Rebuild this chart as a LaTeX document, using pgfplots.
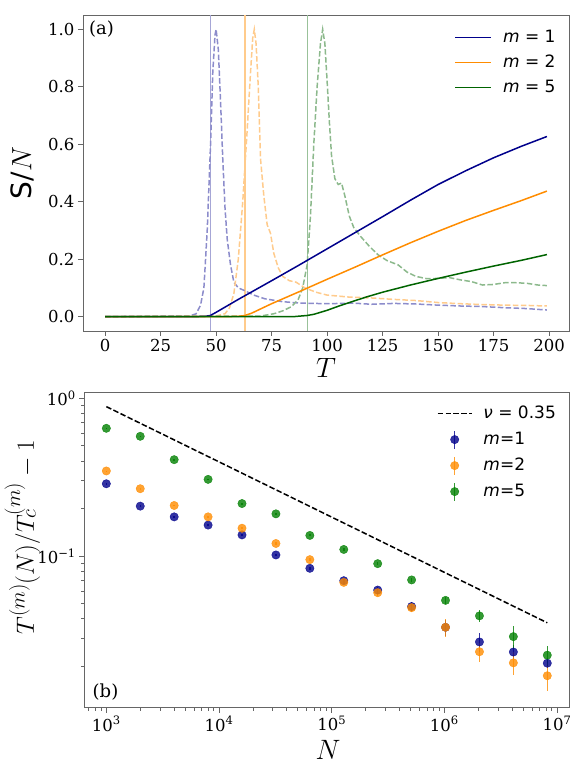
\documentclass[border=0pt]{standalone}
\usepackage{graphicx}
\usepackage{fontspec}
\setmainfont{DejaVu Serif}
\newfontfamily\dvs{DejaVu Sans}
\usepackage{pgfplots}
\pgfplotsset{compat=1.18}

\definecolor{bC}{HTML}{00008B}
\definecolor{oC}{HTML}{FF8C00}
\definecolor{gC}{HTML}{006400}
\definecolor{gP}{HTML}{008000}

% math fonts stop at 24.88pt, so the axis labels are scaled up
\newcommand\lbl[1]{\scalebox{1.125}{#1}}

\pgfplotsset{
  panel/.style={
    scale only axis,
    axis line style={black!60, line width=0.9pt},
    tick align=outside, tick pos=left,
    major tick length=5pt, minor tick length=3pt,
    tick style={black!60, line width=0.8pt},
    tick label style={font=\fontsize{16.5}{18}\selectfont},
    label style={font=\fontsize{24.88}{30}\selectfont},
    /pgf/number format/assume math mode=true,
    legend cell align=left,
  },
  vline/.style={line width=1.6pt, forget plot},
  dline/.style={line width=1.5pt, dash pattern=on 5.5pt off 2.4pt, forget plot},
  sline/.style={line width=1.5pt},
  pts/.style={only marks, mark=*, mark size=4.2pt, opacity=0.8,
    error bars/y dir=both, error bars/y explicit, error bars/error mark=none,
    error bars/error bar style={line width=1.5pt, solid}},
}

\begin{document}
\begin{tikzpicture}[x=1pt,y=1pt]
\path[use as bounding box] (0,0) rectangle (576,770);

% ---- (a) order parameter vs temperature
\begin{axis}[panel,
    at={(83pt,439pt)}, anchor=south west,
    width=486pt, height=316pt,
    xmin=-9.95, xmax=208.95, ymin=-0.05, ymax=1.05,
    xtick={0,25,50,75,100,125,150,175,200},
    ytick={0,0.2,0.4,0.6,0.8,1},
    yticklabel style={/pgf/number format/.cd, fixed, fixed zerofill, precision=1},
    xlabel={\lbl{$T$}}, ylabel={\lbl{{\dvs S}/$N$}},
    xlabel style={at={(axis description cs:0.5,-0.117)}, anchor=center},
    ylabel style={at={(axis description cs:-0.125,0.5)}, anchor=center},
    legend style={draw=none, fill=none, at={(0.985,0.972)}, anchor=north east,
      font=\dvs\fontsize{17}{20}\selectfont,
      nodes={inner sep=3pt, text height=13pt, text depth=4pt}, row sep=2pt,
      /tikz/every odd column/.append style={column sep=8pt}},
    legend image code/.code={\draw[#1] (0pt,0pt)--(36pt,0pt);},
]
\addplot[vline, bC!35] coordinates {(47.4,-0.05)(47.4,1.05)};
\addplot[vline, oC!45] coordinates {(63.0,-0.05)(63.0,1.05)};
\addplot[vline, gC!40] coordinates {(91.2,-0.05)(91.2,1.05)};

\addplot[dline, bC!45] coordinates {
(0,0)(38,0.002)(41,0.01)(43,0.04)(44.5,0.1)(46,0.3)(47.5,0.6)(48.5,0.85)
(49.5,0.98)(50,1.0)(51,0.93)(52,0.75)(53,0.55)(54,0.38)(55,0.27)(56.5,0.18)
(58,0.12)(60,0.10)(63,0.09)(67,0.075)(72,0.062)(80,0.052)(88,0.047)(100,0.045)
(112,0.047)(120,0.043)(130,0.046)(140,0.044)(150,0.040)(160,0.037)(170,0.035)
(180,0.031)(190,0.028)(199,0.023)};
\addplot[dline, oC!45] coordinates {
(0,0)(50,0.002)(54,0.01)(56,0.03)(58,0.08)(60,0.2)(62,0.4)(64,0.65)(65.5,0.85)
(66.5,0.97)(67.2,1.0)(68,0.95)(69,0.8)(70,0.55)(71.5,0.42)(73,0.32)(74.5,0.29)
(76,0.22)(78,0.17)(80,0.14)(83,0.125)(86,0.12)(90,0.10)(95,0.085)(100,0.075)
(110,0.068)(120,0.065)(130,0.06)(140,0.056)(150,0.049)(160,0.045)(170,0.042)
(180,0.040)(190,0.039)(199,0.037)};
\addplot[dline, gC!45] coordinates {
(0,0)(70,0.002)(76,0.01)(80,0.02)(84,0.035)(87,0.06)(89,0.1)(91,0.18)(92.5,0.35)
(94,0.6)(95.5,0.8)(97,0.95)(98,1.0)(99,0.95)(100,0.82)(101,0.68)(102,0.56)
(103.5,0.48)(105,0.46)(106.5,0.465)(108,0.42)(110,0.35)(112,0.31)(115,0.28)
(119,0.245)(123,0.215)(127,0.195)(132,0.18)(136,0.155)(140,0.14)(145,0.132)
(150,0.133)(155,0.136)(160,0.128)(165,0.122)(170,0.11)(175,0.112)(180,0.118)
(185,0.118)(190,0.116)(195,0.11)(199,0.108)};

\addplot[sline, bC] coordinates {
(0,0)(40,0)(45,0.001)(47.4,0.004)(50,0.015)(60,0.060)(75,0.125)(87.5,0.180)
(100,0.236)(112.5,0.292)(125,0.348)(137.5,0.405)(150,0.460)(162.5,0.508)
(175,0.553)(187.5,0.593)(199,0.627)};
\addlegendentry{{\itshape m} = 1}
\addplot[sline, oC] coordinates {
(0,0)(55,0)(60,0.001)(63,0.004)(66,0.012)(75,0.045)(87.5,0.087)(100,0.130)
(112.5,0.172)(125,0.215)(137.5,0.257)(150,0.297)(162.5,0.335)(175,0.370)
(187.5,0.404)(199,0.437)};
\addlegendentry{{\itshape m} = 2}
\addplot[sline, gC] coordinates {
(0,0)(85,0)(91,0.004)(94,0.008)(97,0.015)(100,0.022)(105,0.036)(110,0.049)
(117.5,0.068)(125,0.085)(137.5,0.110)(150,0.133)(162.5,0.155)(175,0.176)
(187.5,0.196)(199,0.216)};
\addlegendentry{{\itshape m} = 5}

\node[font=\fontsize{18}{20}\selectfont] at (rel axis cs:0.038,0.956) {(a)};
\end{axis}

% ---- (b) finite-size shift of the transition
\begin{axis}[panel,
    at={(84.3pt,62.3pt)}, anchor=south west,
    width=485pt, height=315.7pt,
    xmode=log, ymode=log,
    xmin=637.5, xmax=1.285e7, ymin=0.01091, ymax=1.096,
    xtick={1e3,1e4,1e5,1e6,1e7},
    xticklabels={10\textsuperscript{3},10\textsuperscript{4},10\textsuperscript{5},10\textsuperscript{6},10\textsuperscript{7}},
    minor xtick={700,800,900,2000,3000,4000,5000,6000,7000,8000,9000,
      20000,30000,40000,50000,60000,70000,80000,90000,
      200000,300000,400000,500000,600000,700000,800000,900000,
      2e6,3e6,4e6,5e6,6e6,7e6,8e6,9e6},
    ytick={0.1,1},
    yticklabels={10\textsuperscript{−1},10\textsuperscript{0}},
    minor ytick={0.02,0.03,0.04,0.05,0.06,0.07,0.08,0.09,0.2,0.3,0.4,0.5,0.6,0.7,0.8,0.9},
    xlabel={\lbl{$N$}}, ylabel={$T^{(m)}(N)/T_c^{(m)}-1$},
    xlabel style={at={(axis description cs:0.5025,-0.134)}, anchor=center},
    ylabel style={at={(axis description cs:-0.128,0.539)}, anchor=center},
    legend style={draw=none, fill=none, at={(0.985,0.975)}, anchor=north east,
      font=\dvs\fontsize{17}{20}\selectfont,
      nodes={inner sep=3pt, text height=13pt, text depth=4pt}, row sep=3pt,
      /tikz/every odd column/.append style={column sep=8pt}},
]
\addplot[black, line width=1.5pt, dash pattern=on 5.5pt off 2.4pt,
    legend image code/.code={\draw[black, line width=1.5pt, dash pattern=on 5.5pt off 2.4pt] (0pt,0pt)--(34pt,0pt);}]
  coordinates {(1000,0.885)(8192000,0.0377)};
\addlegendentry{{\itshape ν} = 0.35}

\addplot[color=bC, pts,
    legend image code/.code={\draw[bC, opacity=0.8, line width=1.5pt] (17pt,-9pt)--(17pt,9pt); \fill[bC, opacity=0.8] (17pt,0pt) circle (4.2pt);}]
  coordinates {
  (1000,0.287) +- (0,0.002) (2000,0.207) +- (0,0.002) (4000,0.177) +- (0,0.002)
  (8000,0.157) +- (0,0.002) (16000,0.136) +- (0,0.002) (32000,0.1015) +- (0,0.002)
  (64000,0.0835) +- (0,0.002) (128000,0.0697) +- (0,0.003) (256000,0.0608) +- (0,0.003)
  (512000,0.0478) +- (0,0.003) (1024000,0.0353) +- (0,0.004) (2048000,0.0285) +- (0,0.004)
  (4096000,0.0246) +- (0,0.0025) (8192000,0.0209) +- (0,0.0015)};
\addlegendentry{{\itshape m}=1}

\addplot[color=oC, pts,
    legend image code/.code={\draw[oC, opacity=0.8, line width=1.5pt] (17pt,-9pt)--(17pt,9pt); \fill[oC, opacity=0.8] (17pt,0pt) circle (4.2pt);}]
  coordinates {
  (1000,0.346) +- (0,0.002) (2000,0.267) +- (0,0.002) (4000,0.209) +- (0,0.002)
  (8000,0.177) +- (0,0.002) (16000,0.150) +- (0,0.002) (32000,0.120) +- (0,0.002)
  (64000,0.0948) +- (0,0.002) (128000,0.068) +- (0,0.002) (256000,0.0585) +- (0,0.0025)
  (512000,0.047) +- (0,0.003) (1024000,0.0353) +- (0,0.0045) (2048000,0.0247) +- (0,0.0035)
  (4096000,0.0210) +- (0,0.0035) (8192000,0.0174) +- (0,0.0035)};
\addlegendentry{{\itshape m}=2}

\addplot[color=gP, pts,
    legend image code/.code={\draw[gP, opacity=0.8, line width=1.5pt] (17pt,-9pt)--(17pt,9pt); \fill[gP, opacity=0.8] (17pt,0pt) circle (4.2pt);}]
  coordinates {
  (1000,0.645) +- (0,0.002) (2000,0.574) +- (0,0.002) (4000,0.408) +- (0,0.002)
  (8000,0.306) +- (0,0.002) (16000,0.215) +- (0,0.002) (32000,0.185) +- (0,0.002)
  (64000,0.135) +- (0,0.002) (128000,0.110) +- (0,0.002) (256000,0.0894) +- (0,0.002)
  (512000,0.0705) +- (0,0.002) (1024000,0.0523) +- (0,0.003) (2048000,0.0417) +- (0,0.0036)
  (4096000,0.0308) +- (0,0.005) (8192000,0.0235) +- (0,0.0035)};
\addlegendentry{{\itshape m}=5}

\node[font=\fontsize{18}{20}\selectfont] at (rel axis cs:0.0437,0.051) {(b)};
\end{axis}
\end{tikzpicture}
\end{document}
